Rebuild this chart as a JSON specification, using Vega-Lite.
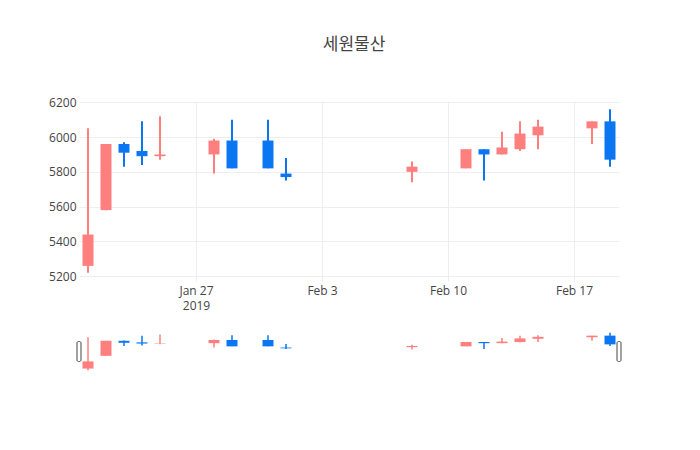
{
  "$schema": "https://vega.github.io/schema/vega-lite/v6.json",
  "padding": {"left": 48, "top": 36, "right": 0, "bottom": 0},
  "background": "white",
  "title": {
    "text": "세원물산",
    "font": "Open Sans, Noto Sans CJK KR",
    "fontSize": 17,
    "fontWeight": "normal",
    "color": "#444",
    "anchor": "middle",
    "offset": 42,
    "dx": 19
  },
  "datasets": {
    "candles": [
      {"date": "2019-01-21", "open": 5260, "high": 6050, "low": 5220, "close": 5440},
      {"date": "2019-01-22", "open": 5580, "high": 5960, "low": 5580, "close": 5960},
      {"date": "2019-01-23", "open": 5960, "high": 5970, "low": 5830, "close": 5910},
      {"date": "2019-01-24", "open": 5920, "high": 6090, "low": 5840, "close": 5890},
      {"date": "2019-01-25", "open": 5890, "high": 6120, "low": 5870, "close": 5900},
      {"date": "2019-01-28", "open": 5900, "high": 5990, "low": 5790, "close": 5980},
      {"date": "2019-01-29", "open": 5980, "high": 6100, "low": 5820, "close": 5820},
      {"date": "2019-01-31", "open": 5980, "high": 6100, "low": 5820, "close": 5820},
      {"date": "2019-02-01", "open": 5790, "high": 5880, "low": 5750, "close": 5770},
      {"date": "2019-02-08", "open": 5800, "high": 5860, "low": 5740, "close": 5830},
      {"date": "2019-02-11", "open": 5820, "high": 5930, "low": 5820, "close": 5930},
      {"date": "2019-02-12", "open": 5930, "high": 5930, "low": 5750, "close": 5900},
      {"date": "2019-02-13", "open": 5900, "high": 6030, "low": 5900, "close": 5940},
      {"date": "2019-02-14", "open": 5930, "high": 6090, "low": 5920, "close": 6020},
      {"date": "2019-02-15", "open": 6010, "high": 6100, "low": 5930, "close": 6060},
      {"date": "2019-02-18", "open": 6050, "high": 6090, "low": 5960, "close": 6090},
      {"date": "2019-02-19", "open": 6090, "high": 6160, "low": 5830, "close": 5870}
    ],
    "handles": [
      {"date": "2019-01-20T12:00:00Z"},
      {"date": "2019-02-19T12:00:00Z"}
    ]
  },
  "config": {
    "view": {"stroke": null},
    "axis": {
      "labelFont": "Open Sans",
      "labelFontSize": 12,
      "labelColor": "#444",
      "gridColor": "#eeeeee",
      "gridWidth": 1,
      "domain": false,
      "ticks": false,
      "labelOverlap": false
    }
  },
  "vconcat": [
    {
      "width": 540,
      "height": 180,
      "data": {"name": "candles"},
      "encoding": {
        "x": {
          "field": "date",
          "type": "temporal",
          "title": null,
          "scale": {
            "type": "utc",
            "padding": 0,
            "domain": [
              {"year": 2019, "month": "jan", "date": 20, "hours": 12, "utc": true},
              {"year": 2019, "month": "feb", "date": 19, "hours": 12, "utc": true}
            ]
          },
          "axis": {
            "values": [
              {"year": 2019, "month": "jan", "date": 27, "utc": true},
              {"year": 2019, "month": "feb", "date": 3, "utc": true},
              {"year": 2019, "month": "feb", "date": 10, "utc": true},
              {"year": 2019, "month": "feb", "date": 17, "utc": true}
            ],
            "labelExpr": "datum.index == 0 ? [utcFormat(datum.value, '%b %-d'), utcFormat(datum.value, '%Y')] : utcFormat(datum.value, '%b %-d')",
            "labelPadding": 4,
            "labelLineHeight": 15,
            "labelOverlap": false,
            "labelFlush": false
          }
        },
        "color": {
          "condition": {"test": "datum.close > datum.open", "value": "#ff7f7f"},
          "value": "#0a76f2"
        }
      },
      "layer": [
        {
          "mark": {"type": "rule", "strokeWidth": 2},
          "encoding": {
            "y": {
              "field": "low",
              "type": "quantitative",
              "title": null,
              "scale": {"domain": [5173, 6207], "nice": false, "zero": false},
              "axis": {
                "values": [5200, 5400, 5600, 5800, 6000, 6200],
                "format": "d",
                "labelOverlap": false,
                "labelFlush": false,
                "labelPadding": 3
              }
            },
            "y2": {"field": "high"}
          }
        },
        {
          "mark": {"type": "bar", "size": 11},
          "encoding": {
            "y": {
              "field": "open",
              "type": "quantitative",
              "title": null,
              "scale": {"domain": [5173, 6207], "nice": false, "zero": false},
              "axis": {
                "values": [5200, 5400, 5600, 5800, 6000, 6200],
                "format": "d",
                "labelOverlap": false,
                "labelFlush": false,
                "labelPadding": 3
              }
            },
            "y2": {"field": "close"}
          }
        }
      ]
    },
    {
      "width": 540,
      "height": 41,
      "layer": [
        {
          "data": {"name": "candles"},
          "encoding": {
            "x": {
              "field": "date",
              "type": "temporal",
              "axis": null,
              "scale": {
                "type": "utc",
                "padding": 0,
                "domain": [
                  {"year": 2019, "month": "jan", "date": 20, "hours": 12, "utc": true},
                  {"year": 2019, "month": "feb", "date": 19, "hours": 12, "utc": true}
                ]
              }
            },
            "color": {
              "condition": {"test": "datum.close > datum.open", "value": "#ff7f7f"},
              "value": "#0a76f2"
            }
          },
          "layer": [
            {
              "mark": {"type": "rule", "strokeWidth": 1.5},
              "encoding": {
                "y": {
                  "field": "low",
                  "type": "quantitative",
                  "axis": null,
                  "scale": {"domain": [5173, 6207], "nice": false, "zero": false}
                },
                "y2": {"field": "high"}
              }
            },
            {
              "mark": {"type": "bar", "size": 11},
              "encoding": {
                "y": {"field": "open", "type": "quantitative", "axis": null},
                "y2": {"field": "close"}
              }
            }
          ]
        },
        {
          "data": {"name": "handles"},
          "mark": {
            "type": "tick",
            "orient": "vertical",
            "thickness": 4,
            "size": 20,
            "fill": "white",
            "stroke": "#444",
            "strokeWidth": 1,
            "cornerRadius": 1.5,
            "opacity": 1,
            "clip": false
          },
          "encoding": {
            "x": {"field": "date", "type": "temporal", "axis": null},
            "y": {"datum": 5690, "type": "quantitative", "axis": null}
          }
        }
      ]
    }
  ],
  "spacing": 50,
  "bounds": "flush"
}
